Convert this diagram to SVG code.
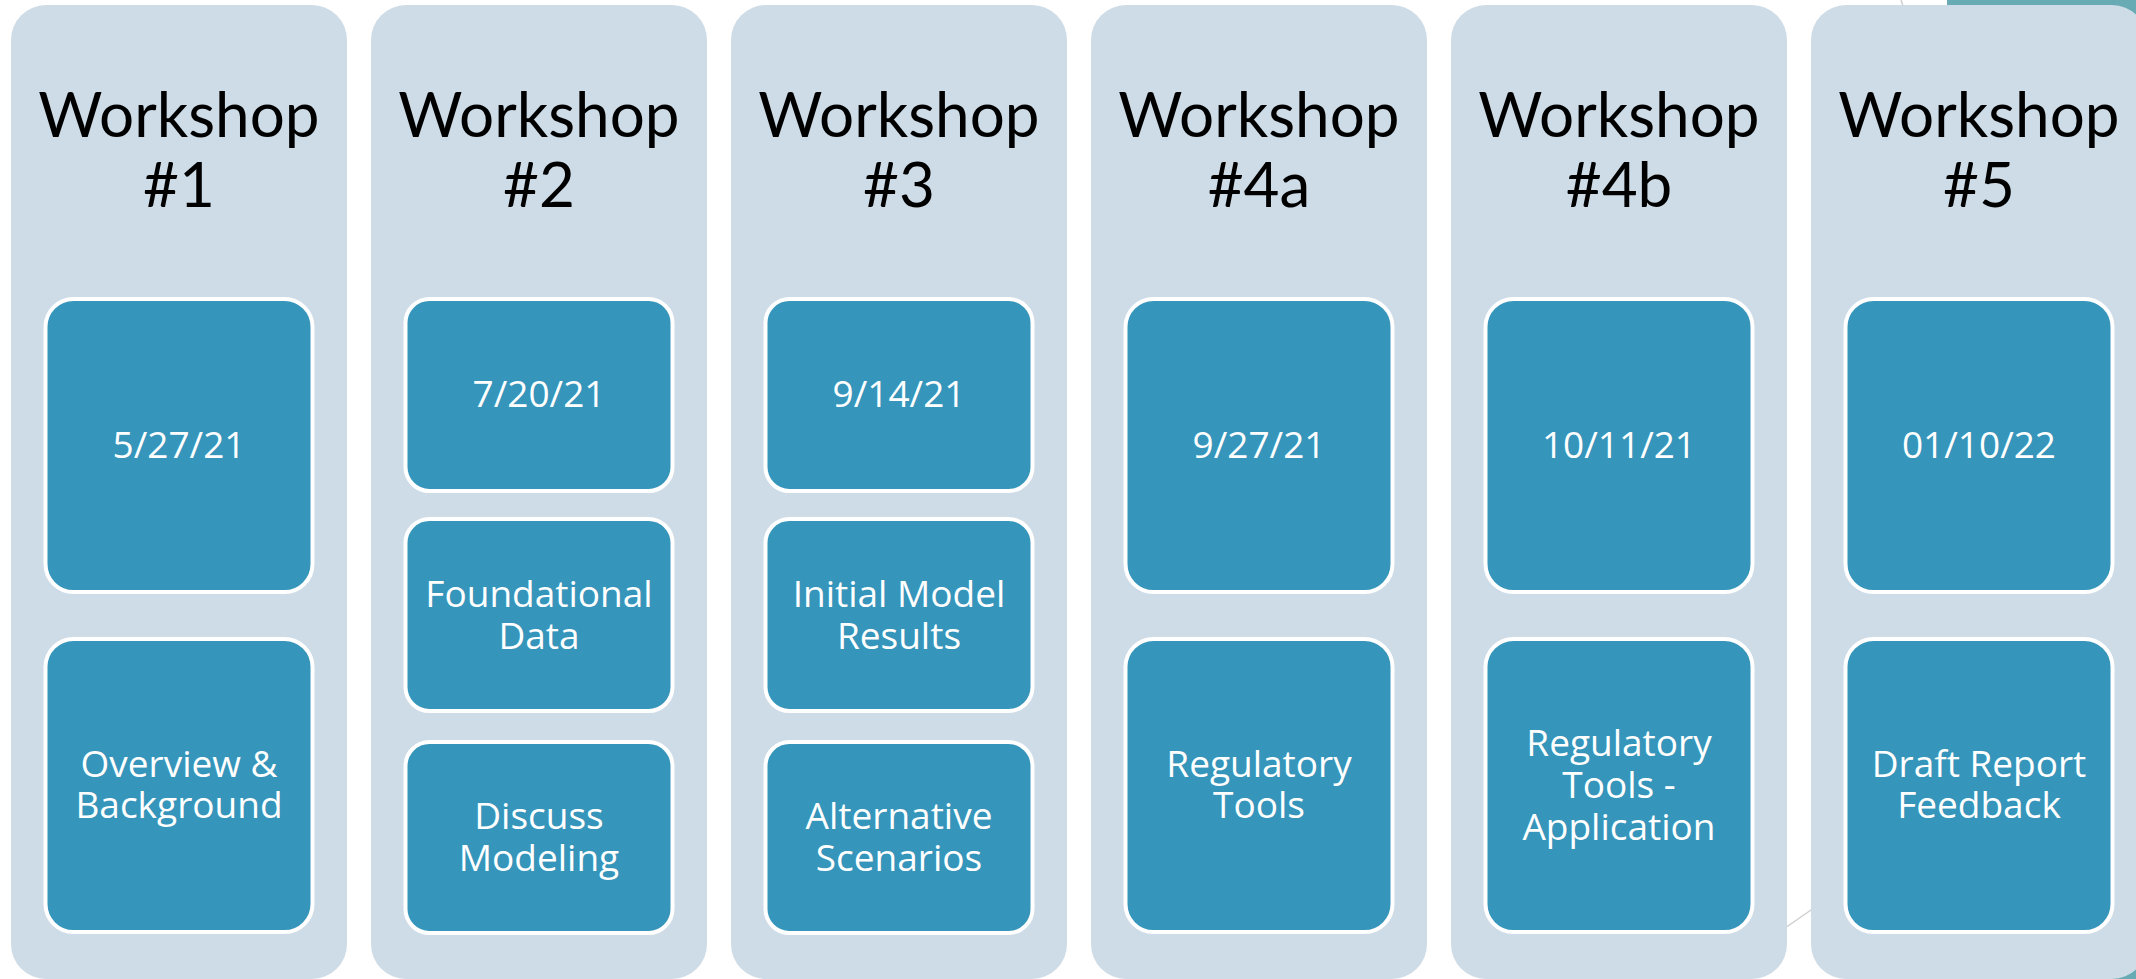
<svg xmlns="http://www.w3.org/2000/svg" width="2136" height="979" viewBox="0 0 2136 979">
<style>
.col{fill:#cedce7}
.box{fill:#3595bb;stroke:#ffffff;stroke-width:4}
.title{font-family:Lato,"Open Sans","Liberation Sans",sans-serif;font-size:62px;fill:#000000;text-anchor:middle}
.lbl{font-family:"Open Sans","Liberation Sans",sans-serif;font-size:37px;fill:#ffffff;text-anchor:middle}
.deco{stroke:#cfcfcf;stroke-width:1.5;fill:none}
</style>
<rect width="2136" height="979" fill="#ffffff"/>
<rect x="1947" y="-30" width="220" height="1040" rx="30" fill="#69abb5"/>
<g id="connectors">
<line class="deco" x1="1901" y1="0" x2="1903" y2="6"/>
<line class="deco" x1="1785" y1="928" x2="1811" y2="910"/>
</g>
<g id="ws1">
<rect class="col" x="11" y="5" width="336" height="974" rx="35"/>
<text class="title" x="179" y="137">Workshop<tspan x="179" dy="70">#1</tspan></text>
<rect class="box" x="45.5" y="299" width="267" height="293" rx="28"/>
<text class="lbl" x="179" y="458">5/27/21</text>
<rect class="box" x="45.5" y="639" width="267" height="293" rx="28"/>
<text class="lbl" x="179" y="777">Overview &amp;<tspan x="179" dy="41">Background</tspan></text>
</g>
<g id="ws2">
<rect class="col" x="371" y="5" width="336" height="974" rx="35"/>
<text class="title" x="539" y="137">Workshop<tspan x="539" dy="70">#2</tspan></text>
<rect class="box" x="405.5" y="299" width="267" height="192" rx="24"/>
<text class="lbl" x="539" y="407">7/20/21</text>
<rect class="box" x="405.5" y="519" width="267" height="192" rx="24"/>
<text class="lbl" x="539" y="607">Foundational<tspan x="539" dy="42">Data</tspan></text>
<rect class="box" x="405.5" y="742" width="267" height="191" rx="24"/>
<text class="lbl" x="539" y="829">Discuss<tspan x="539" dy="42">Modeling</tspan></text>
</g>
<g id="ws3">
<rect class="col" x="731" y="5" width="336" height="974" rx="35"/>
<text class="title" x="899" y="137">Workshop<tspan x="899" dy="70">#3</tspan></text>
<rect class="box" x="765.5" y="299" width="267" height="192" rx="24"/>
<text class="lbl" x="899" y="407">9/14/21</text>
<rect class="box" x="765.5" y="519" width="267" height="192" rx="24"/>
<text class="lbl" x="899" y="607">Initial Model<tspan x="899" dy="42">Results</tspan></text>
<rect class="box" x="765.5" y="742" width="267" height="191" rx="24"/>
<text class="lbl" x="899" y="829">Alternative<tspan x="899" dy="42">Scenarios</tspan></text>
</g>
<g id="ws4a">
<rect class="col" x="1091" y="5" width="336" height="974" rx="35"/>
<text class="title" x="1259" y="137">Workshop<tspan x="1259" dy="70">#4a</tspan></text>
<rect class="box" x="1125.5" y="299" width="267" height="293" rx="28"/>
<text class="lbl" x="1259" y="458">9/27/21</text>
<rect class="box" x="1125.5" y="639" width="267" height="293" rx="28"/>
<text class="lbl" x="1259" y="777">Regulatory<tspan x="1259" dy="41">Tools</tspan></text>
</g>
<g id="ws4b">
<rect class="col" x="1451" y="5" width="336" height="974" rx="35"/>
<text class="title" x="1619" y="137">Workshop<tspan x="1619" dy="70">#4b</tspan></text>
<rect class="box" x="1485.5" y="299" width="267" height="293" rx="28"/>
<text class="lbl" x="1619" y="458">10/11/21</text>
<rect class="box" x="1485.5" y="639" width="267" height="293" rx="28"/>
<text class="lbl" x="1619" y="756">Regulatory<tspan x="1619" dy="42">Tools -</tspan><tspan x="1619" dy="42">Application</tspan></text>
</g>
<g id="ws5">
<rect class="col" x="1811" y="5" width="336" height="974" rx="35"/>
<text class="title" x="1979" y="137">Workshop<tspan x="1979" dy="70">#5</tspan></text>
<rect class="box" x="1845.5" y="299" width="267" height="293" rx="28"/>
<text class="lbl" x="1979" y="458">01/10/22</text>
<rect class="box" x="1845.5" y="639" width="267" height="293" rx="28"/>
<text class="lbl" x="1979" y="777">Draft Report<tspan x="1979" dy="41">Feedback</tspan></text>
</g>
</svg>
